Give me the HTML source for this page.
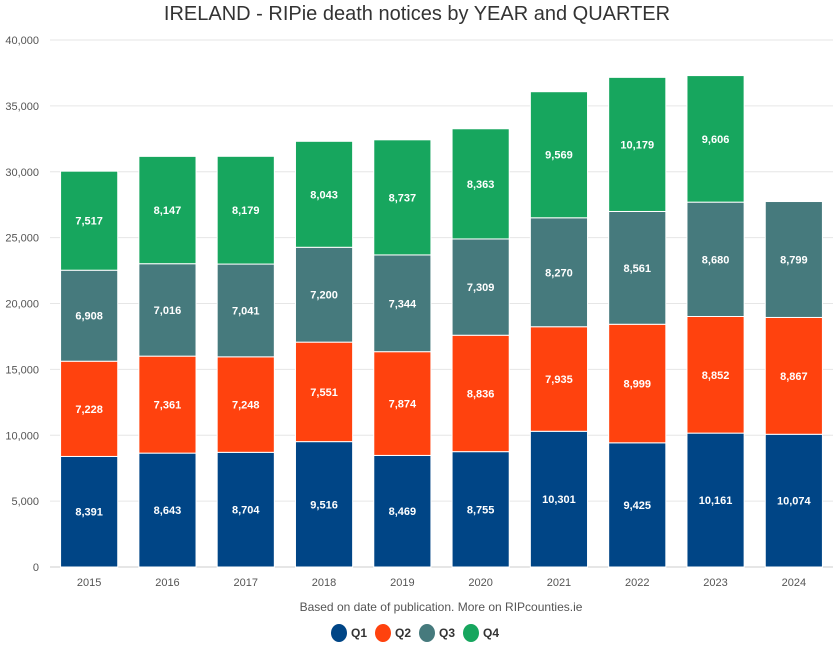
<!DOCTYPE html>
<html><head><meta charset="utf-8"><style>
body{margin:0;background:#fff;font-family:"Liberation Sans",Arial,sans-serif}
</style></head><body>
<svg id="c" width="834" height="650" xmlns="http://www.w3.org/2000/svg">
<text x="417" y="20" text-anchor="middle" font-size="20" fill="#333">IRELAND - RIPie death notices by YEAR and QUARTER</text>
<text x="441" y="611" text-anchor="middle" font-size="12" fill="#555">Based on date of publication. More on RIPcounties.ie</text>
</svg>
<script>
const years=['2015','2016','2017','2018','2019','2020','2021','2022','2023','2024'];
const q1=[8391,8643,8704,9516,8469,8755,10301,9425,10161,10074];
const q2=[7228,7361,7248,7551,7874,8836,7935,8999,8852,8867];
const q3=[6908,7016,7041,7200,7344,7309,8270,8561,8680,8799];
const q4=[7517,8147,8179,8043,8737,8363,9569,10179,9606,0];
const seriesNames=['Q1','Q2','Q3','Q4'];
const yTicks=[0,5000,10000,15000,20000,25000,30000,35000,40000];
const colors=['#004586','#ff420e','#467a7d','#17a65e'];
const svg=document.getElementById('c');
const NS='http://www.w3.org/2000/svg';
const L=50,R=833,T=40,B=567,ymax=40000;
const bw=(R-L)/years.length;
const y=v=>B-(v/ymax)*(B-T);
const x=i=>L+i*bw;
function mk(t,a){const e=document.createElementNS(NS,t);for(const k in a)e.setAttribute(k,a[k]);svg.appendChild(e);return e;}
yTicks.forEach(v=>{
 const g=mk('line',{x1:L,x2:R,y1:y(v),y2:y(v),stroke:v===0?'#ccc':'#e6e6e6','stroke-width':1});
 
 
 const t=mk('text',{x:L-11,y:y(v)+4,'text-anchor':'end','font-size':11,fill:'#555'});
 t.textContent=v.toLocaleString('en-US');
 
 
});
const series=[q1,q2,q3,q4];
years.forEach((yr,i)=>{
 let base=0;
 series.forEach((s,k)=>{
  const v=s[i]; if(!v)return;
  const bx=x(i)+bw*0.135, w=bw*0.73;
  const r=mk('rect',{x:bx,y:y(base+v),width:w,height:y(base)-y(base+v),fill:colors[k],stroke:'#fff','stroke-width':1});
  
  
  const t=mk('text',{x:bx+w/2,y:(y(base)+y(base+v))/2+4,'text-anchor':'middle','font-size':11,'font-weight':'bold',fill:'#fff'});
  t.textContent=v.toLocaleString('en-US');
  
  
  base+=v;
 });
 const t=mk('text',{x:x(i)+bw/2,y:586,'text-anchor':'middle','font-size':11,fill:'#555'});
 t.textContent=yr;
 
 
});
const lx=[331,375,419,463];
seriesNames.forEach((n,k)=>{
 const c=mk('ellipse',{cx:lx[k]+8,cy:633,rx:8,ry:9,fill:colors[k]});
 
 
 const t=mk('text',{x:lx[k]+20,y:637,'font-size':12,'font-weight':'bold',fill:'#333'});
 t.textContent=n;
 
 
});
</script>
</body></html>
